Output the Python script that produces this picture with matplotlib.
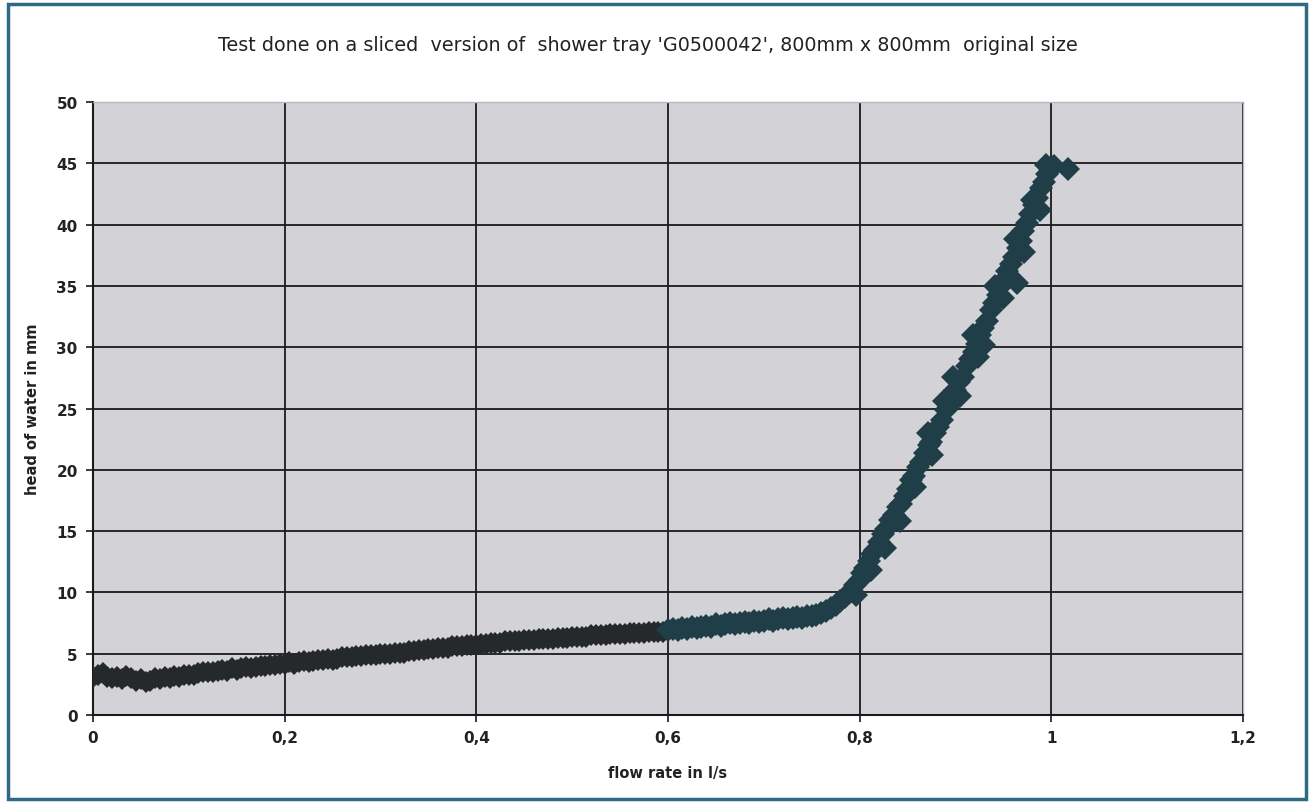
import matplotlib
matplotlib.use("Agg")
import matplotlib.pyplot as plt
from matplotlib.patches import Rectangle
from matplotlib.ticker import FuncFormatter

# series 1: low flow (black markers)
flow_low = [0.000, 0.005, 0.010, 0.015, 0.020, 0.025, 0.030, 0.035, 0.040, 0.045,
            0.050, 0.055, 0.060, 0.065, 0.070, 0.075, 0.080, 0.085, 0.090, 0.095,
            0.100, 0.105, 0.110, 0.115, 0.120, 0.125, 0.130, 0.135, 0.140, 0.145,
            0.150, 0.155, 0.160, 0.165, 0.170, 0.175, 0.180, 0.185, 0.190, 0.195,
            0.200, 0.205, 0.210, 0.215, 0.220, 0.225, 0.230, 0.235, 0.240, 0.245,
            0.250, 0.255, 0.260, 0.265, 0.270, 0.275, 0.280, 0.285, 0.290, 0.295,
            0.300, 0.305, 0.310, 0.315, 0.320, 0.325, 0.330, 0.335, 0.340, 0.345,
            0.350, 0.355, 0.360, 0.365, 0.370, 0.375, 0.380, 0.385, 0.390, 0.395,
            0.400, 0.405, 0.410, 0.415, 0.420, 0.425, 0.430, 0.435, 0.440, 0.445,
            0.450, 0.455, 0.460, 0.465, 0.470, 0.475, 0.480, 0.485, 0.490, 0.495,
            0.500, 0.505, 0.510, 0.515, 0.520, 0.525, 0.530, 0.535, 0.540, 0.545,
            0.550, 0.555, 0.560, 0.565, 0.570, 0.575, 0.580, 0.585, 0.590, 0.595]
head_low = [3.1, 3.3, 3.4, 3.1, 3.0, 3.1, 2.9, 3.2, 3.0, 2.8,
            2.9, 2.7, 2.8, 3.0, 2.9, 3.1, 3.0, 3.2, 3.1, 3.3,
            3.3, 3.3, 3.4, 3.5, 3.5, 3.5, 3.6, 3.7, 3.6, 3.8,
            3.7, 3.8, 3.9, 3.8, 3.9, 4.0, 4.0, 4.1, 4.1, 4.2,
            4.2, 4.3, 4.2, 4.3, 4.4, 4.3, 4.4, 4.5, 4.5, 4.6,
            4.5, 4.6, 4.7, 4.7, 4.7, 4.8, 4.8, 4.9, 4.9, 4.9,
            5.0, 5.0, 5.0, 5.1, 5.1, 5.1, 5.2, 5.2, 5.3, 5.3,
            5.4, 5.4, 5.5, 5.5, 5.5, 5.6, 5.6, 5.6, 5.7, 5.7,
            5.7, 5.8, 5.8, 5.9, 5.9, 5.9, 6.0, 6.0, 6.0, 6.0,
            6.1, 6.1, 6.1, 6.2, 6.2, 6.2, 6.2, 6.3, 6.3, 6.3,
            6.4, 6.4, 6.4, 6.4, 6.5, 6.5, 6.5, 6.5, 6.6, 6.6,
            6.6, 6.6, 6.7, 6.7, 6.7, 6.7, 6.8, 6.8, 6.8, 6.8]

# series 2: high flow (dark teal markers)
flow_high = [0.600, 0.605, 0.610, 0.615, 0.620, 0.625, 0.630, 0.635, 0.640, 0.645,
             0.650, 0.655, 0.660, 0.665, 0.670, 0.675, 0.680, 0.685, 0.690, 0.695,
             0.700, 0.705, 0.710, 0.715, 0.720, 0.725, 0.730, 0.735, 0.740, 0.745,
             0.750, 0.755, 0.760, 0.765, 0.770, 0.775, 0.780, 0.785, 0.790, 0.795,
             0.800, 0.803, 0.806, 0.810, 0.813, 0.816, 0.820, 0.824, 0.828, 0.832,
             0.836, 0.840, 0.843, 0.847, 0.850, 0.854, 0.857, 0.861, 0.864, 0.868,
             0.872, 0.875, 0.879, 0.882, 0.886, 0.890, 0.893, 0.897, 0.900, 0.904,
             0.908, 0.912, 0.915, 0.919, 0.922, 0.926, 0.929, 0.933, 0.937, 0.940,
             0.944, 0.947, 0.951, 0.954, 0.958, 0.961, 0.964, 0.965, 0.968, 0.971,
             0.975, 0.978, 0.982, 0.985, 0.989, 0.992, 0.996, 0.999, 1.003, 1.017,
             0.842, 0.858, 0.876, 0.888, 0.905, 0.918, 0.930, 0.941, 0.950, 0.962,
             0.972, 0.980, 0.988, 0.994, 0.826, 0.812, 0.796, 0.871, 0.897, 0.924]
head_high = [6.9, 7.0, 6.9, 7.1, 7.0, 7.2, 7.1, 7.2, 7.3, 7.2,
             7.4, 7.3, 7.4, 7.5, 7.4, 7.5, 7.6, 7.5, 7.7, 7.6,
             7.7, 7.8, 7.7, 7.8, 7.9, 7.8, 7.9, 8.0, 7.9, 8.1,
             8.1, 8.2, 8.3, 8.5, 8.7, 9.0, 9.3, 9.6, 10.0, 10.6,
             11.0, 11.6, 12.0, 12.6, 13.1, 13.5, 14.1, 14.8, 15.2, 15.9,
             16.3, 17.0, 17.2, 17.9, 18.4, 19.2, 19.5, 20.2, 20.6, 21.4,
             22.0, 22.3, 23.0, 23.5, 24.1, 24.9, 25.2, 26.1, 26.5, 27.2,
             27.6, 28.5, 29.0, 29.6, 30.3, 31.0, 31.6, 32.1, 33.0, 33.6,
             34.3, 34.9, 35.5, 36.2, 36.8, 37.4, 35.2, 38.1, 38.7, 39.5,
             40.1, 40.9, 41.6, 42.2, 43.0, 43.5, 44.1, 44.6, 44.8, 44.5,
             15.8, 18.6, 21.2, 25.6, 26.0, 31.0, 30.2, 35.0, 34.0, 38.8,
             37.8, 42.0, 41.2, 44.9, 13.6, 11.8, 9.8, 23.0, 27.6, 29.2]

x_ticks = [0, 0.2, 0.4, 0.6, 0.8, 1.0, 1.2]
y_ticks = [0, 5, 10, 15, 20, 25, 30, 35, 40, 45, 50]

plt.rcParams['font.family'] = ['DejaVu Sans']

fig = plt.figure(figsize=(13.11, 8.03), dpi=100)
fig.patch.set_facecolor('white')
ax = fig.add_axes([0.0709, 0.1083, 0.8772, 0.7634])
ax.set_facecolor('#d3d3d7')

ax.plot(flow_low, head_low, linestyle='none', marker='D', markersize=11,
        markeredgewidth=0, color='#25292b', zorder=3)
ax.plot(flow_high, head_high, linestyle='none', marker='D', markersize=12.5,
        markeredgewidth=0, color='#1f3e48', zorder=3)

ax.set_xlim(0, 1.2)
ax.set_ylim(0, 50)
ax.set_xticks(x_ticks)
ax.set_yticks(y_ticks)
ax.xaxis.set_major_formatter(FuncFormatter(lambda v, p: f"{v:g}".replace('.', ',')))
ax.grid(True, color='#1a1a1a', linewidth=1.3, zorder=1)
ax.set_axisbelow(True)

for side in ['top', 'right']:
    ax.spines[side].set_color('#b8b8bc')
    ax.spines[side].set_linewidth(1)
for side in ['left', 'bottom']:
    ax.spines[side].set_color('#1a1a1a')
    ax.spines[side].set_linewidth(1.5)

ax.tick_params(axis='both', direction='out', length=5, width=1.2, color='#1a1a1a',
               labelsize=11, labelcolor='#222222', pad=6)
for lab in ax.get_xticklabels() + ax.get_yticklabels():
    lab.set_fontweight('bold')

ax.set_xlabel('flow rate in l/s', fontsize=10.5, fontweight='bold', color='#222222', labelpad=14)
ax.set_ylabel('head of water in mm', fontsize=10.5, fontweight='bold', color='#222222', labelpad=12)

fig.text(0.494, 0.943,
         "Test done on a sliced  version of  shower tray 'G0500042', 800mm x 800mm  original size",
         ha='center', va='center', fontsize=13.8, color='#222222')

# scanned frame around the whole chart
fig.patches.append(Rectangle((0.006, 0.004), 0.990, 0.990, transform=fig.transFigure,
                             fill=False, edgecolor='#2f6a85', linewidth=2.5))

fig.savefig('out.png', dpi=100)
